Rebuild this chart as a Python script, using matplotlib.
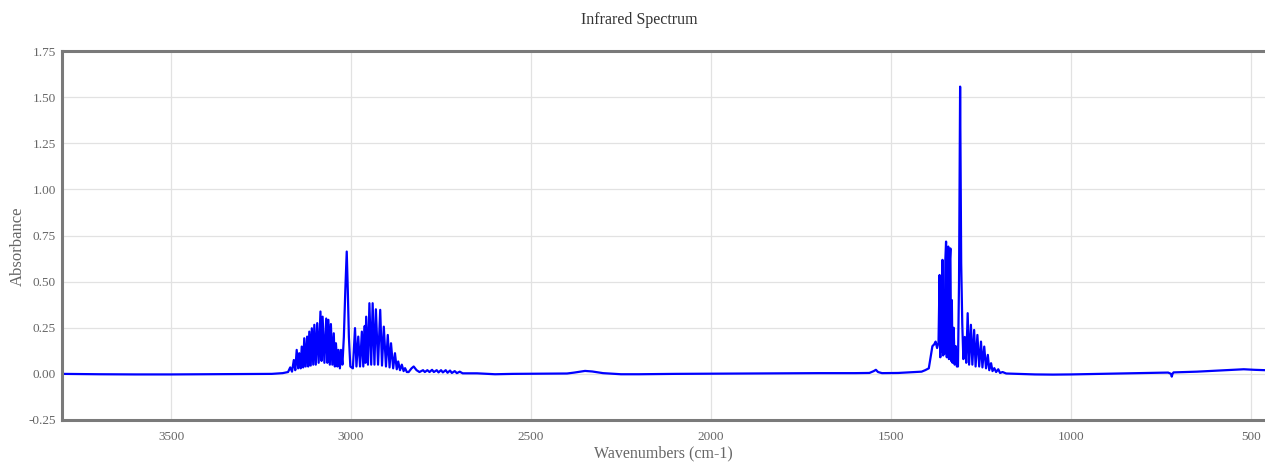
import numpy as np
import matplotlib
matplotlib.use("Agg")
import matplotlib.pyplot as plt

# Absorbance vs wavenumber, listed from high to low wavenumber (cm-1)
wn_base_high = [3803, 3700, 3600, 3500, 3400, 3300, 3220, 3190, 3180]
ab_base_high = [0.0, -0.002, -0.003, -0.003, -0.002, -0.001, 0.0, 0.004, 0.008]

# C-H stretch band: R branch, Q branch, P branch
wn_stretch = [3175, 3169, 3164, 3159, 3155, 3151, 3147, 3144, 3140, 3137,
              3133, 3130, 3126, 3122, 3119, 3116, 3112, 3109, 3105, 3102,
              3098, 3094, 3090, 3085, 3082, 3079, 3074, 3069, 3066, 3063,
              3059, 3056, 3052, 3048, 3045, 3042, 3038, 3035, 3031, 3028,
              3024, 3020, 3016, 3012, 3009, 3006, 3002, 2995, 2989, 2985,
              2980, 2975, 2970, 2966, 2962, 2960, 2958, 2953, 2949, 2944,
              2940, 2935, 2931, 2925, 2919, 2914, 2909, 2903, 2898, 2893,
              2889, 2883, 2878, 2873, 2869, 2864, 2859, 2854, 2850, 2845]
ab_stretch = [0.010, 0.035, 0.012, 0.075, 0.020, 0.130, 0.030, 0.112, 0.030, 0.148,
              0.035, 0.193, 0.040, 0.202, 0.040, 0.229, 0.045, 0.247, 0.050, 0.266,
              0.050, 0.275, 0.060, 0.338, 0.070, 0.310, 0.060, 0.300, 0.060, 0.293,
              0.050, 0.270, 0.050, 0.220, 0.040, 0.166, 0.040, 0.130, 0.030, 0.130,
              0.050, 0.200, 0.450, 0.663, 0.450, 0.200, 0.040, 0.030, 0.248, 0.040,
              0.202, 0.040, 0.229, 0.040, 0.260, 0.060, 0.310, 0.050, 0.383, 0.050,
              0.383, 0.050, 0.350, 0.050, 0.347, 0.045, 0.256, 0.040, 0.211, 0.035,
              0.166, 0.030, 0.112, 0.025, 0.067, 0.020, 0.050, 0.015, 0.031, 0.010]

# weak ripples and the flat stretch down to the bending band
wn_mid = [2840, 2832, 2826, 2818, 2810, 2800, 2795, 2788, 2782, 2775,
          2770, 2762, 2757, 2750, 2745, 2737, 2732, 2725, 2720, 2712,
          2706, 2698, 2690, 2650, 2600, 2550, 2450, 2400, 2380, 2350,
          2330, 2300, 2250, 2200, 2100, 2000, 1900, 1800, 1700, 1600,
          1560, 1548, 1542, 1536, 1525, 1480, 1450, 1430, 1415, 1405]
ab_mid = [0.010, 0.030, 0.040, 0.020, 0.010, 0.020, 0.010, 0.020, 0.010, 0.022,
          0.010, 0.020, 0.008, 0.020, 0.008, 0.020, 0.006, 0.018, 0.005, 0.015,
          0.004, 0.012, 0.003, 0.003, -0.002, 0.0, 0.001, 0.002, 0.007, 0.016,
          0.013, 0.004, -0.002, -0.002, 0.0, 0.001, 0.002, 0.003, 0.004, 0.004,
          0.005, 0.015, 0.022, 0.010, 0.004, 0.005, 0.008, 0.010, 0.012, 0.020]

# C-H bending band
wn_bend = [1395, 1390, 1385, 1380, 1376, 1372, 1368, 1365, 1363, 1361,
           1359, 1357, 1355, 1353, 1351, 1349, 1347, 1345, 1343, 1341,
           1339, 1337, 1335, 1333, 1331, 1329, 1326, 1323, 1320, 1317,
           1314, 1311, 1308, 1305, 1302, 1299, 1295, 1291, 1287, 1283,
           1278, 1274, 1269, 1265, 1260, 1255, 1250, 1246, 1241, 1236,
           1231, 1227, 1222, 1218, 1213, 1208, 1202, 1197, 1190]
ab_bend = [0.030, 0.090, 0.150, 0.160, 0.175, 0.140, 0.170, 0.536, 0.090, 0.400,
           0.120, 0.618, 0.100, 0.450, 0.110, 0.620, 0.717, 0.090, 0.550, 0.690,
           0.080, 0.600, 0.680, 0.070, 0.400, 0.060, 0.250, 0.050, 0.150, 0.040,
           0.040, 0.500, 1.557, 0.600, 0.270, 0.080, 0.200, 0.060, 0.329, 0.050,
           0.266, 0.050, 0.238, 0.040, 0.211, 0.040, 0.175, 0.035, 0.148, 0.030,
           0.103, 0.020, 0.058, 0.015, 0.031, 0.010, 0.025, 0.005, 0.010]

wn_base_low = [1180, 1150, 1100, 1050, 1000, 950, 900, 850, 800, 760,
               730, 722, 720, 718, 715, 650, 600, 550, 520, 490, 461]
ab_base_low = [0.002, 0.0, -0.003, -0.004, -0.003, -0.001, 0.001, 0.003, 0.005, 0.006,
               0.007, 0.0, -0.015, 0.0, 0.008, 0.012, 0.017, 0.022, 0.025, 0.022, 0.020]

x_ticks = [3500, 3000, 2500, 2000, 1500, 1000, 500]
y_ticks = [-0.25, 0.0, 0.25, 0.5, 0.75, 1.0, 1.25, 1.5, 1.75]

wavenumber = np.concatenate([wn_base_high, wn_stretch, wn_mid, wn_bend, wn_base_low])
absorbance = np.concatenate([ab_base_high, ab_stretch, ab_mid, ab_bend, ab_base_low])

plt.rcParams['font.family'] = ['Liberation Serif', 'DejaVu Serif']

fig = plt.figure(figsize=(12.65, 4.63), dpi=100)
ax = fig.add_axes([62 / 1265, 43 / 463, 1 - 62 / 1265, 369 / 463])

ax.plot(wavenumber, absorbance, color='#0000ff', linewidth=1.6)

ax.set_xlim(3803, 461)
ax.set_ylim(-0.25, 1.75)
ax.set_xticks(x_ticks)
ax.set_yticks(y_ticks)
ax.set_yticklabels([f'{v:.2f}' for v in y_ticks])
ax.tick_params(length=0, labelsize=9.5, colors='#666666')
ax.tick_params(axis='x', pad=8)
ax.tick_params(axis='y', pad=4.5)
ax.grid(True, color='#e2e2e2', linewidth=0.9)
ax.set_axisbelow(True)

for side in ['left', 'bottom', 'top']:
    ax.spines[side].set_color('#7a7a7a')
    ax.spines[side].set_linewidth(2.2)
ax.spines['right'].set_visible(False)

ax.set_xlabel('Wavenumbers (cm-1)', fontsize=11.5, color='#666666', labelpad=2)
ax.set_ylabel('Absorbance', fontsize=12, color='#666666')
ax.yaxis.set_label_coords(-0.03, 0.47)
fig.text(0.505, 0.957, 'Infrared Spectrum', ha='center', va='center',
         fontsize=11.5, color='#333333')

fig.savefig('out.png', dpi=100)
